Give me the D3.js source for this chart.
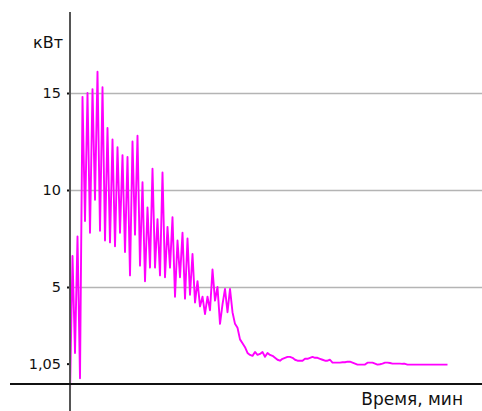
<!DOCTYPE html>
<html>
<head>
<meta charset="utf-8">
<script src="https://cdn.jsdelivr.net/npm/d3@7"></script>
<style>
  body { margin: 0; background: #fff; }
  text { font-family: "DejaVu Sans", Verdana, sans-serif; fill: #111; }
</style>
</head>
<body>
<div id="chart"></div>
<script>
// chart size
var width = 482;
var height = 411;

// power readings, one every half minute (кВт)
var power = [
  -0.5, 6.6, 1.6, 7.6, 0.3, 14.8, 8.4, 15.0, 7.8, 15.2,
  9.5, 16.1, 7.9, 15.3, 7.4, 13.2, 7.3, 12.6, 7.1, 12.2,
  7.8, 11.8, 6.8, 11.7, 5.6, 12.5, 7.7, 12.8, 6.1, 10.4,
  5.3, 9.1, 6.0, 11.1, 6.0, 8.5, 5.6, 10.9, 5.5, 8.1,
  6.0, 8.6, 4.5, 7.4, 5.5, 7.8, 4.4, 7.5, 4.6, 6.7,
  4.2, 5.3, 4.0, 4.5, 3.6, 4.5, 3.8, 5.9, 4.3, 5.0,
  3.1, 4.1, 4.9, 3.7, 4.9, 3.7, 3.1, 2.9, 2.3, 2.1,
  1.9, 1.6, 1.5, 1.45, 1.65, 1.5, 1.55, 1.65, 1.4, 1.6,
  1.5, 1.45, 1.35, 1.25, 1.2, 1.3, 1.35, 1.4, 1.4, 1.35,
  1.25, 1.2, 1.2, 1.2, 1.3, 1.3, 1.35, 1.4, 1.35, 1.35,
  1.3, 1.25, 1.2, 1.2, 1.25, 1.1, 1.1, 1.1, 1.1, 1.12,
  1.12, 1.15, 1.15, 1.1, 1.05, 1.0, 1.0, 1.0, 1.0, 1.1,
  1.1, 1.1, 1.05, 1.0, 1.02, 1.05, 1.1, 1.1, 1.08, 1.05,
  1.05, 1.05, 1.05, 1.04, 1.04, 1.0, 1.0, 1.0, 1.0, 1.0,
  1.0, 1.0, 1.0, 1.0, 1.0, 1.0, 1.0, 1.0, 1.0, 1.0,
  1.0, 1.0
];

// sampling step, minutes
var step = 0.5;

// y ticks
var gridValues = [5, 10, 15];
var tickValues = [1.05, 5, 10, 15];

var svg = d3.select("#chart")
  .append("svg")
  .attr("width", width)
  .attr("height", height);

// scales
var xScale = d3.scaleLinear().domain([0, 82]).range([70, 480]);
var yScale = d3.scaleLinear().domain([0, 15]).range([384, 93]);

// grid lines
svg.append("g")
  .selectAll("line")
  .data(gridValues)
  .enter()
  .append("line")
  .attr("x1", 70)
  .attr("x2", width)
  .attr("y1", function(d) { return Math.round(yScale(d)) + 0.5; })
  .attr("y2", function(d) { return Math.round(yScale(d)) + 0.5; })
  .attr("stroke", "#b4b4b4")
  .attr("stroke-width", 1.5);

// left axis with custom labels
var leftAxis = d3.axisLeft(yScale)
  .tickValues(tickValues)
  .tickSize(3)
  .tickPadding(6)
  .tickFormat(function(d) { return d === 1.05 ? "1,05" : d; });

var yAxisG = svg.append("g")
  .attr("transform", "translate(70,0)")
  .call(leftAxis);
yAxisG.select(".domain").remove();
yAxisG.selectAll(".tick line").attr("stroke", "#111").attr("stroke-width", 2);
yAxisG.selectAll(".tick text")
  .style("font-size", "14.5px")
  .style("font-family", "DejaVu Sans, sans-serif")
  .attr("fill", "#111");

// the power line
var line = d3.line()
  .x(function(d, i) { return xScale(i * step); })
  .y(function(d) { return yScale(d); });

svg.append("path")
  .datum(power)
  .attr("d", line)
  .attr("fill", "none")
  .attr("stroke", "#ff00ff")
  .attr("stroke-width", 1.9)
  .attr("stroke-linejoin", "round");

// vertical axis line
svg.append("line")
  .attr("x1", 70).attr("x2", 70)
  .attr("y1", 12).attr("y2", height)
  .attr("stroke", "#555")
  .attr("stroke-width", 2);

// horizontal axis line
svg.append("line")
  .attr("x1", 10).attr("x2", width)
  .attr("y1", yScale(0)).attr("y2", yScale(0))
  .attr("stroke", "#111")
  .attr("stroke-width", 2);

// axis titles
svg.append("text")
  .attr("x", 63)
  .attr("y", 48)
  .attr("text-anchor", "end")
  .style("font-size", "16px")
  .text("кВт");

svg.append("text")
  .attr("x", 463)
  .attr("y", 405)
  .attr("text-anchor", "end")
  .style("font-size", "17px")
  .text("Время, мин");
</script>
</body>
</html>
